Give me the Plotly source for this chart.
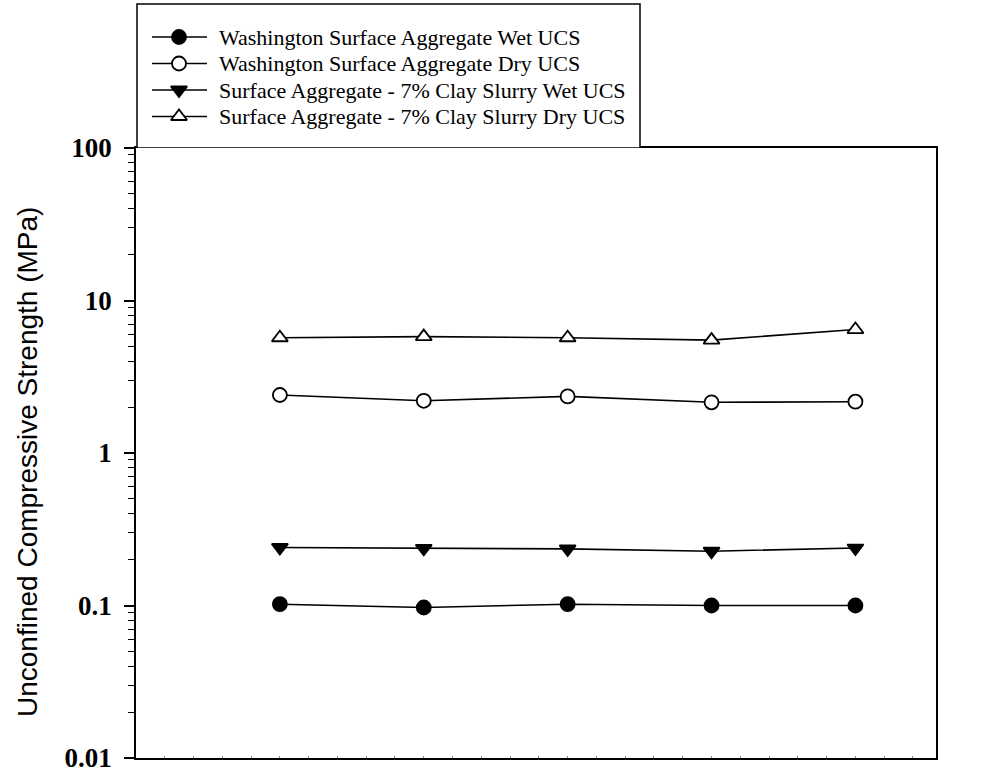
import plotly.graph_objects as go

# Sample positions along the x axis
sample = [1, 2, 3, 4, 5]

# Unconfined compressive strength, MPa
wash_wet_ucs = [0.102, 0.097, 0.102, 0.100, 0.100]
wash_dry_ucs = [2.40, 2.20, 2.35, 2.15, 2.17]
clay_wet_ucs = [0.240, 0.237, 0.235, 0.227, 0.238]
clay_dry_ucs = [5.7, 5.8, 5.7, 5.5, 6.45]

series_names = [
    "Washington Surface Aggregate Wet UCS",
    "Washington Surface Aggregate Dry UCS",
    "Surface Aggregate - 7% Clay Slurry Wet UCS",
    "Surface Aggregate - 7% Clay Slurry Dry UCS",
]
series_values = [wash_wet_ucs, wash_dry_ucs, clay_wet_ucs, clay_dry_ucs]

y_tick_vals = [0.01, 0.1, 1, 10, 100]
y_tick_text = ["0.01", "0.1", "1", "10", "100"]

# Marker styles per series: (symbol, fill colour)
styles = [
    ("circle", "black"),
    ("circle", "white"),
    ("triangle-down", "black"),
    ("triangle-up", "white"),
]
MARKER_SIZE = 14

# Figure geometry (pixels)
W, H = 990, 771
M_L, M_R, M_B = 136, 54, 13
PLOT_TOP = 148                      # top of the data area
PAPER_H = H - M_B                   # paper spans from top of page to bottom margin
Y_DOMAIN_TOP = (PAPER_H - PLOT_TOP) / PAPER_H

# Key box layout, in page pixels (drawn on a pixel-scaled overlay axis)
KEY_BOX = dict(x0=137, x1=640, y0=4, y1=148)
KEY_ROW_Y = [37, 63.5, 90, 116.5]
KEY_LINE_X = [152, 207]
KEY_MARK_X = 179
KEY_TEXT_X = 217

fig = go.Figure()

# Data series
for name, vals, (sym, fill) in zip(series_names, series_values, styles):
    fig.add_trace(go.Scatter(
        x=sample, y=vals, name=name, mode="lines+markers", showlegend=False,
        line=dict(color="black", width=1.6),
        marker=dict(symbol=sym, size=MARKER_SIZE, color=fill,
                    line=dict(color="black", width=1.8)),
        xaxis="x", yaxis="y",
    ))

# Key: sample line + marker per series, on the overlay axis
annotations = []
for name, (sym, fill), ry in zip(series_names, styles, KEY_ROW_Y):
    fig.add_trace(go.Scatter(
        x=KEY_LINE_X, y=[ry, ry], mode="lines", showlegend=False,
        line=dict(color="black", width=1.6), hoverinfo="skip",
        xaxis="x2", yaxis="y2",
    ))
    fig.add_trace(go.Scatter(
        x=[KEY_MARK_X], y=[ry], mode="markers", showlegend=False,
        marker=dict(symbol=sym, size=MARKER_SIZE, color=fill,
                    line=dict(color="black", width=1.8)),
        hoverinfo="skip", xaxis="x2", yaxis="y2",
    ))
    annotations.append(dict(
        text=name, xref="x2", yref="y2", x=KEY_TEXT_X, y=ry,
        xanchor="left", yanchor="middle", showarrow=False,
        font=dict(family="Liberation Serif", size=22, color="black"),
    ))

# Y axis title
annotations.append(dict(
    text="Unconfined Compressive Strength (MPa)",
    xref="paper", yref="paper", x=(27 - M_L) / (W - M_L - M_R),
    y=(PAPER_H - 462) / PAPER_H,
    xanchor="center", yanchor="middle", textangle=-90, showarrow=False,
    font=dict(family="Liberation Sans", size=28, color="black"),
))

fig.update_layout(
    width=W, height=H,
    margin=dict(l=M_L, r=M_R, t=0, b=M_B, autoexpand=False),
    paper_bgcolor="white", plot_bgcolor="white",
    showlegend=False,
    annotations=annotations,
    shapes=[dict(
        type="rect", xref="x2", yref="y2", **KEY_BOX,
        line=dict(color="black", width=1.5), fillcolor="white", layer="below",
    )],
    xaxis=dict(
        domain=[0, 1], anchor="y",
        range=[0, 5.56], showgrid=False, zeroline=False,
        showline=True, linecolor="black", linewidth=1.8, mirror=True,
        ticks="inside", ticklen=2, tickwidth=1, tickcolor="#888888",
        dtick=0.2, tick0=0, showticklabels=False, automargin=False,
    ),
    yaxis=dict(
        domain=[0, Y_DOMAIN_TOP], anchor="x",
        type="log", range=[-2, 2], showgrid=False, zeroline=False,
        showline=True, linecolor="black", linewidth=1.8, mirror=True,
        tickmode="array", tickvals=y_tick_vals, ticktext=y_tick_text,
        ticks="outside", ticklen=10, tickwidth=1.5, tickcolor="black",
        ticklabelstandoff=7, ticklabeloverflow="allow", automargin=False,
        tickfont=dict(family="Liberation Serif", size=27, color="black",
                      weight="bold"),
        minor=dict(ticks="outside", ticklen=6, tickwidth=1.3,
                   tickcolor="black",
                   tickvals=[m * 10 ** e for e in range(-2, 2)
                             for m in range(2, 10)]),
    ),
    xaxis2=dict(
        domain=[0, 1], anchor="y2", range=[M_L, W - M_R],
        visible=False, fixedrange=True,
    ),
    yaxis2=dict(
        domain=[Y_DOMAIN_TOP, 1], anchor="x2", range=[PLOT_TOP, 0],
        visible=False, fixedrange=True,
    ),
)

fig.write_html("out.html")
